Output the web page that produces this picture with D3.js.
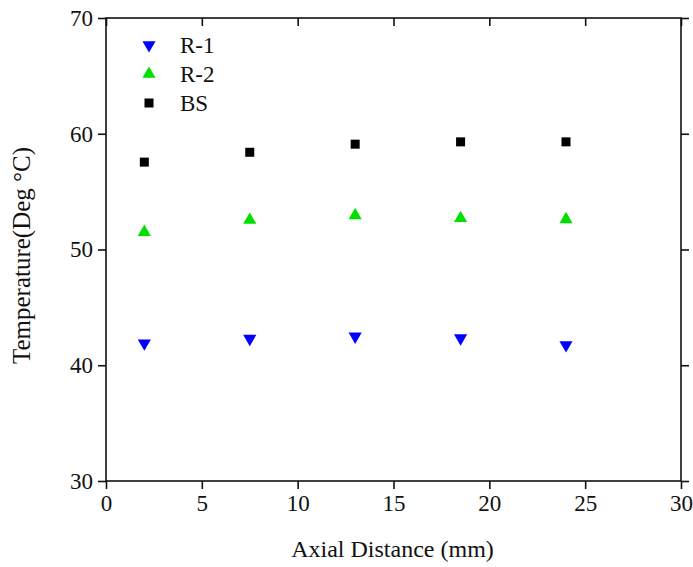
<!DOCTYPE html>
<html><head><meta charset="utf-8">
<script src="https://cdn.jsdelivr.net/npm/d3@7"></script>
<style>body{margin:0;background:#fff;} text{font-family:"Liberation Serif","Times New Roman",serif;fill:#111;}</style>
</head><body>
<svg id="c" width="693" height="567"></svg>
<script>
const xs = [2, 7.5, 13, 18.5, 24];
const r1 = [41.9, 42.3, 42.5, 42.35, 41.75];
const r2 = [51.5, 52.55, 52.95, 52.7, 52.6];
const bs = [57.55, 58.4, 59.1, 59.3, 59.3];
const xTicks = [0, 5, 10, 15, 20, 25, 30];
const yTicks = [30, 40, 50, 60, 70];
const seriesNames = ["R-1", "R-2", "BS"];
const seriesColors = ["#0000ff", "#00e000", "#000000"];

const svg = d3.select("#c");
const L = 106, R = 681, T = 18, B = 481;
const x = d3.scaleLinear().domain([0, 30]).range([L, R]);
const y = d3.scaleLinear().domain([30, 70]).range([B, T]);

svg.append("rect").attr("x", L).attr("y", T).attr("width", R - L).attr("height", B - T)
  .attr("fill", "none").attr("stroke", "#111").attr("stroke-width", 1.6);

const fs = "23px";
const gx = svg.append("g").attr("transform", `translate(0,${B})`)
  .call(d3.axisBottom(x).tickValues(xTicks).tickSize(8).tickPadding(6).tickFormat(d3.format("d")));
const gy = svg.append("g").attr("transform", `translate(${L},0)`)
  .call(d3.axisLeft(y).tickValues(yTicks).tickSize(8).tickPadding(5).tickFormat(d3.format("d")));
const gt = svg.append("g").attr("transform", `translate(0,${T})`)
  .call(d3.axisBottom(x).tickValues(xTicks).tickSize(8).tickFormat(""));
const gr = svg.append("g").attr("transform", `translate(${R},0)`)
  .call(d3.axisRight(y).tickValues(yTicks).tickSize(8).tickFormat(""));
[gx, gy, gt, gr].forEach(g => {
  g.select(".domain").remove();
  g.selectAll("line").attr("stroke", "#111").attr("stroke-width", 1.6);
  g.selectAll("text").style("font-size", fs).style("font-family", "Liberation Serif").attr("fill", "#111");
});

svg.append("text").attr("x", (L + R) / 2 - 1).attr("y", 557).attr("text-anchor", "middle")
  .style("font-size", "24px").text("Axial Distance (mm)");
svg.append("text").attr("transform", `translate(30,${(T + B) / 2 + 6}) rotate(-90)`).attr("text-anchor", "middle")
  .style("font-size", "25px").text("Temperature(Deg °C)");

const tri = d3.symbol().type(d3.symbolTriangle).size(75);
function drawMarker(g, i, cx, cy) {
  if (i === 0) g.append("path").attr("d", tri()).attr("transform", `translate(${cx},${cy}) rotate(180)`).attr("fill", seriesColors[i]);
  else if (i === 1) g.append("path").attr("d", tri()).attr("transform", `translate(${cx},${cy})`).attr("fill", seriesColors[i]);
  else g.append("rect").attr("x", cx - 4.5).attr("y", cy - 4.5).attr("width", 9).attr("height", 9).attr("fill", seriesColors[i]);
}
const data = [r1, r2, bs];
const gm = svg.append("g");
data.forEach((vals, i) => vals.forEach((v, j) => drawMarker(gm, i, x(xs[j]), y(v))));

const lg = svg.append("g");
seriesNames.forEach((n, i) => {
  const cy = 45 + i * 29;
  drawMarker(lg, i, 149, cy);
  lg.append("text").attr("x", 180).attr("y", cy + 8).style("font-size", "23px").text(n);
});
</script>
</body></html>
